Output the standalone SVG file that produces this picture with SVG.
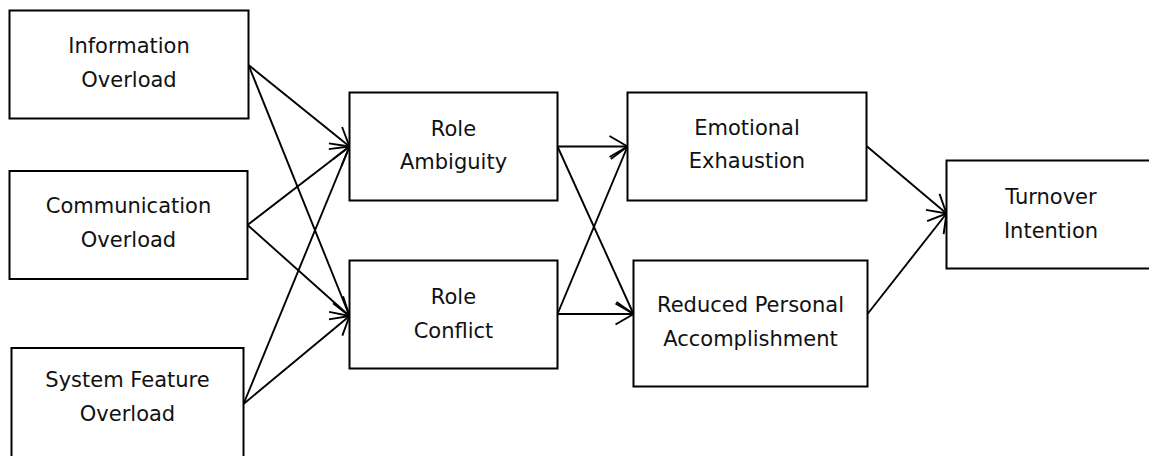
<svg xmlns="http://www.w3.org/2000/svg" width="1149" height="456" viewBox="0 0 1149 456">
<style>
.box{fill:#fff;stroke:#000;stroke-width:2}
.lbl{font-family:"DejaVu Sans","Verdana",sans-serif;font-size:21px;fill:#111;text-anchor:middle}
.edge{fill:none;stroke:#000;stroke-width:1.9;marker-end:url(#arr)}
</style>
<defs>
<marker id="arr" markerUnits="userSpaceOnUse" markerWidth="24" markerHeight="24" viewBox="-2 -12 22 24" refX="18" refY="0" orient="auto">
<path d="M0,-10.5 L18,0 L0,10.5" fill="none" stroke="#000" stroke-width="1.9"/>
</marker>
</defs>
<rect width="1149" height="456" fill="#fff"/>
<g id="connectors">
<line class="edge" x1="248.5" y1="65" x2="349.5" y2="146.5"/>
<line class="edge" x1="248.5" y1="65" x2="349.5" y2="316"/>
<line class="edge" x1="247.5" y1="225" x2="349.5" y2="146.5"/>
<line class="edge" x1="247.5" y1="225" x2="349.5" y2="316"/>
<line class="edge" x1="243.5" y1="404" x2="349.5" y2="146.5"/>
<line class="edge" x1="243.5" y1="404" x2="349.5" y2="316"/>
<line class="edge" x1="557.5" y1="146.5" x2="627.5" y2="146.5"/>
<line class="edge" x1="557.5" y1="146.5" x2="633.5" y2="314"/>
<line class="edge" x1="557.5" y1="314" x2="627.5" y2="146.5"/>
<line class="edge" x1="557.5" y1="314" x2="633.5" y2="314"/>
<line class="edge" x1="866.5" y1="146" x2="946.5" y2="213.5"/>
<line class="edge" x1="867.5" y1="314" x2="946.5" y2="213.5"/>
</g>
<g id="info">
<rect class="box" x="9.5" y="10.5" width="239" height="108"/>
<text class="lbl" x="129" y="53">Information</text>
<text class="lbl" x="129" y="87">Overload</text>
</g>
<g id="comm">
<rect class="box" x="9.5" y="171" width="238" height="108"/>
<text class="lbl" x="128.5" y="213">Communication</text>
<text class="lbl" x="128.5" y="247">Overload</text>
</g>
<g id="sys">
<rect class="box" x="11.5" y="348" width="232" height="130"/>
<text class="lbl" x="127.5" y="387">System Feature</text>
<text class="lbl" x="127.5" y="421">Overload</text>
</g>
<g id="ambiguity">
<rect class="box" x="349.5" y="92.5" width="208" height="108"/>
<text class="lbl" x="453.5" y="135.5">Role</text>
<text class="lbl" x="453.5" y="169">Ambiguity</text>
</g>
<g id="conflict">
<rect class="box" x="349.5" y="260.5" width="208" height="108"/>
<text class="lbl" x="453.5" y="303.5">Role</text>
<text class="lbl" x="453.5" y="337.5">Conflict</text>
</g>
<g id="exhaustion">
<rect class="box" x="627.5" y="92.5" width="239" height="108"/>
<text class="lbl" x="747" y="134.5">Emotional</text>
<text class="lbl" x="747" y="168">Exhaustion</text>
</g>
<g id="accomplishment">
<rect class="box" x="633.5" y="260.5" width="234" height="126"/>
<text class="lbl" x="750.5" y="312">Reduced Personal</text>
<text class="lbl" x="750.5" y="346">Accomplishment</text>
</g>
<g id="turnover">
<rect class="box" x="946.5" y="160.5" width="210" height="108"/>
<text class="lbl" x="1051" y="203.5">Turnover</text>
<text class="lbl" x="1051" y="237.5">Intention</text>
</g>
</svg>
